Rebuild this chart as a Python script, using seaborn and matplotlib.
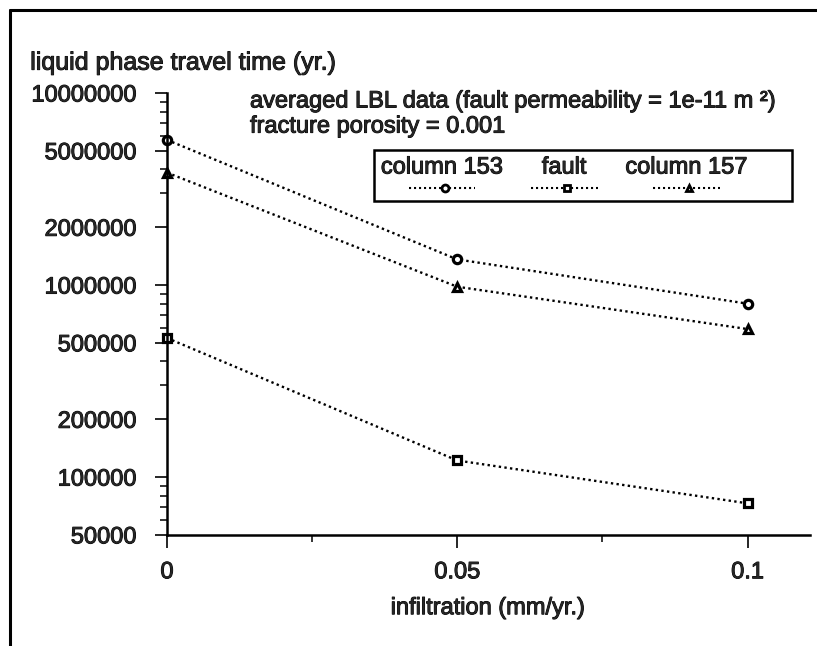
import numpy as np
import pandas as pd
import seaborn as sns
import matplotlib.pyplot as plt
import matplotlib.patheffects as pe
from matplotlib.ticker import FixedLocator, FixedFormatter, LogLocator, NullFormatter, MultipleLocator
from matplotlib.offsetbox import AnchoredOffsetbox, HPacker, VPacker, TextArea, DrawingArea
from matplotlib.lines import Line2D

# values
infiltration = [0, 0.05, 0.1]
column_153 = [5.7e6, 1.36e6, 8.0e5]
fault = [5.3e5, 1.22e5, 7.3e4]
column_157 = [3.85e6, 9.8e5, 5.9e5]
series_names = ["column 153", "fault", "column 157"]
series_markers = ["o", "s", "^"]

y_ticks = [50000, 100000, 200000, 500000, 1000000, 2000000, 5000000, 10000000]
x_ticks = [0, 0.05, 0.1]
x_labels = ["0", "0.05", "0.1"]

df = pd.DataFrame({
    "infiltration": infiltration * 3,
    "time": column_153 + fault + column_157,
    "series": np.repeat(series_names, len(infiltration)),
})

sns.set_style("white")
plt.rcParams["font.family"] = ["Liberation Sans", "DejaVu Sans"]
FS = 17
heavy = [pe.withStroke(linewidth=0.7, foreground="black")]

fig = plt.figure(figsize=(8.17, 6.46), dpi=100)
ax = fig.add_axes([0.2044, 0.172, 0.7866, 0.684])

sns.lineplot(data=df, x="infiltration", y="time", style="series",
             markers=dict(zip(series_names, series_markers)),
             dashes={n: (1, 1.4) for n in series_names},
             color="black", linewidth=1.7, markersize=6,
             markerfacecolor="white", markeredgecolor="black",
             markeredgewidth=2.3, clip_on=False, legend=False, ax=ax)

ax.set_yscale("log")
ax.set_ylim(5e4, 1e7)
ax.set_xlim(0, 0.1107)
ax.yaxis.set_major_locator(FixedLocator(y_ticks))
ax.yaxis.set_major_formatter(FixedFormatter([str(v) for v in y_ticks]))
ax.yaxis.set_minor_locator(LogLocator(base=10, subs=np.arange(2, 10), numticks=50))
ax.yaxis.set_minor_formatter(NullFormatter())
ax.xaxis.set_major_locator(FixedLocator(x_ticks))
ax.xaxis.set_major_formatter(FixedFormatter(x_labels))
ax.xaxis.set_minor_locator(MultipleLocator(0.025))

ax.tick_params(axis="y", which="major", direction="out", length=9, width=1.4,
               pad=13, labelsize=FS, left=True)
ax.tick_params(axis="y", which="minor", direction="out", length=5, width=1.3, left=True)
ax.tick_params(axis="x", which="major", direction="out", length=9, width=1.4,
               pad=10, labelsize=FS, bottom=True)
ax.tick_params(axis="x", which="minor", direction="out", length=5, width=1.3, bottom=True)

for side in ["top", "right"]:
    ax.spines[side].set_visible(False)
for side in ["left", "bottom"]:
    ax.spines[side].set_color("black")
    ax.spines[side].set_linewidth(1.8)

ax.set_xlabel("infiltration (mm/yr.)", fontsize=FS, labelpad=10)
ax.set_ylabel("")
ax.xaxis.label.set_path_effects(heavy)
for lab in ax.get_xticklabels() + ax.get_yticklabels():
    lab.set_path_effects(heavy)

fig.text(0.037, 0.903, "liquid phase travel time (yr.)", fontsize=18, va="center",
         path_effects=heavy)
fig.text(0.306, 0.843, "averaged LBL data (fault permeability = 1e-11 m \u00b2)",
         fontsize=FS, va="center", path_effects=heavy)
fig.text(0.306, 0.804, "fracture porosity = 0.001", fontsize=FS, va="center",
         path_effects=heavy)

# legend: label above a short dotted handle with the marker
cols = []
for name, mk in zip(series_names, series_markers):
    da = DrawingArea(48, 8, 0, 0)
    da.add_artist(Line2D([0, 48], [4, 4], color="black", linewidth=1.5,
                         dashes=(1, 1.4)))
    da.add_artist(Line2D([26], [4], marker=mk, markersize=5,
                         markerfacecolor="white", markeredgecolor="black",
                         markeredgewidth=2.0, linestyle="none"))
    ta = TextArea(name, textprops=dict(fontsize=FS, path_effects=heavy))
    cols.append(VPacker(children=[ta, da], align="center", pad=0, sep=3))
cols.append(DrawingArea(7, 1, 0, 0))  # extra room on the right of the box
row = HPacker(children=cols, align="top", pad=0, sep=20)
leg = AnchoredOffsetbox(loc="upper left", child=row, pad=0.5, borderpad=0,
                        frameon=True, bbox_to_anchor=(0.322, 0.872),
                        bbox_transform=ax.transAxes)
leg.patch.set_edgecolor("black")
leg.patch.set_linewidth(1.8)
leg.patch.set_boxstyle("square", pad=0)
ax.add_artist(leg)

# outer frame (top and left edges only)
fig.add_artist(Line2D([0.012, 0.012], [0.0, 0.985], transform=fig.transFigure,
                      color="black", linewidth=2.2))
fig.add_artist(Line2D([0.012, 1.0], [0.985, 0.985], transform=fig.transFigure,
                      color="black", linewidth=2.2))

fig.savefig("out.png", dpi=100, facecolor="white")
